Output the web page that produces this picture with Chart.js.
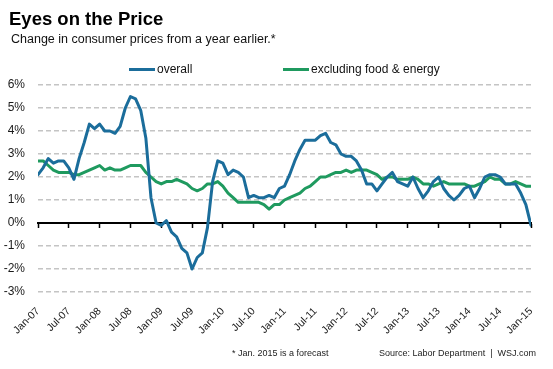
<!DOCTYPE html>
<html>
<head>
<meta charset="utf-8">
<script src="https://cdn.jsdelivr.net/npm/chart.js@4"></script>
<style>
html,body{margin:0;padding:0;background:#fff;}
#wrap{position:relative;width:553px;height:369px;overflow:hidden;font-family:"Liberation Sans",Arial,sans-serif;color:#000;}
#c{position:absolute;left:0;top:0;width:553px;height:369px;}
.t{position:absolute;white-space:nowrap;}
#title{left:9px;top:10.3px;font-size:18.5px;line-height:18.5px;font-weight:bold;}
#sub{left:11px;top:32.9px;font-size:12.5px;line-height:12.5px;color:#111;}
.li{position:absolute;top:63.1px;height:13px;}
.li0{left:129px;}
.li1{left:283px;}
.sw{position:absolute;left:0;top:5.4px;width:26px;height:3px;}
.lt{position:absolute;left:28px;top:0;font-size:12px;line-height:12px;white-space:nowrap;color:#111;}
#note{left:232px;top:349px;font-size:9px;line-height:9px;color:#222;}
#src{right:17px;top:349px;font-size:9px;line-height:9px;color:#222;}
#src .sep{margin:0 5px;}
</style>
</head>
<body>
<div id="wrap">
  <canvas id="c" width="553" height="369"></canvas>
  <div class="t" id="title">Eyes on the Price</div>
  <div class="t" id="sub">Change in consumer prices from a year earlier.*</div>
  <div id="legend"></div>
  <div class="t" id="note">* Jan. 2015 is a forecast</div>
  <div class="t" id="src">Source: Labor Department<span class="sep">|</span>WSJ.com</div>
</div>
<script>
// Tick labels for the x axis (every six months, Jan-07 .. Jan-15)
const tickLabels = ['Jan-07','Jul-07','Jan-08','Jul-08','Jan-09','Jul-09','Jan-10','Jul-10',
  'Jan-11','Jul-11','Jan-12','Jul-12','Jan-13','Jul-13','Jan-14','Jul-14','Jan-15'];

// Series names
const seriesNames = ['overall', 'excluding food & energy'];

// Monthly year-over-year change, %, Jan-07 .. Jan-15
const overall = [
  2.1, 2.4, 2.8, 2.6, 2.7, 2.7, 2.4, 1.9, 2.8, 3.5, 4.3, 4.1,
  4.3, 4.0, 4.0, 3.9, 4.2, 5.0, 5.5, 5.4, 4.9, 3.7, 1.1, 0.0,
  -0.1, 0.1, -0.4, -0.6, -1.1, -1.3, -2.0, -1.5, -1.3, -0.2, 1.8, 2.7,
  2.6, 2.1, 2.3, 2.2, 2.0, 1.1, 1.2, 1.1, 1.1, 1.2, 1.1, 1.5,
  1.6, 2.1, 2.7, 3.2, 3.6, 3.6, 3.6, 3.8, 3.9, 3.5, 3.4, 3.0,
  2.9, 2.9, 2.7, 2.3, 1.7, 1.7, 1.4, 1.7, 2.0, 2.2, 1.8, 1.7,
  1.6, 2.0, 1.5, 1.1, 1.4, 1.8, 2.0, 1.5, 1.2, 1.0, 1.2, 1.5,
  1.6, 1.1, 1.5, 2.0, 2.1, 2.1, 2.0, 1.7, 1.7, 1.7, 1.3, 0.8,
  -0.1
];
const core = [
  2.7, 2.7, 2.5, 2.3, 2.2, 2.2, 2.2, 2.1, 2.1, 2.2, 2.3, 2.4,
  2.5, 2.3, 2.4, 2.3, 2.3, 2.4, 2.5, 2.5, 2.5, 2.2, 2.0, 1.8,
  1.7, 1.8, 1.8, 1.9, 1.8, 1.7, 1.5, 1.4, 1.5, 1.7, 1.7, 1.8,
  1.6, 1.3, 1.1, 0.9, 0.9, 0.9, 0.9, 0.9, 0.8, 0.6, 0.8, 0.8,
  1.0, 1.1, 1.2, 1.3, 1.5, 1.6, 1.8, 2.0, 2.0, 2.1, 2.2, 2.2,
  2.3, 2.2, 2.3, 2.3, 2.3, 2.2, 2.1, 1.9, 2.0, 2.0, 1.9, 1.9,
  1.9, 2.0, 1.9, 1.7, 1.7, 1.6, 1.7, 1.8, 1.7, 1.7, 1.7, 1.7,
  1.6, 1.6, 1.7, 1.8, 2.0, 1.9, 1.9, 1.7, 1.7, 1.8, 1.7, 1.6,
  1.6
];

const toPoints = arr => arr.map((v, i) => ({x: i, y: v}));
const FONT = '"Liberation Sans", Arial, sans-serif';

const htmlLegend = {
  id: 'htmlLegend',
  afterUpdate(chart) {
    const box = document.getElementById('legend');
    box.innerHTML = '';
    chart.data.datasets.forEach((ds, i) => {
      const item = document.createElement('div');
      item.className = 'li li' + i;
      const sw = document.createElement('span');
      sw.className = 'sw';
      sw.style.background = ds.borderColor;
      const tx = document.createElement('span');
      tx.className = 'lt';
      tx.textContent = ds.label;
      item.append(sw, tx);
      box.appendChild(item);
    });
  }
};

new Chart(document.getElementById('c'), {
  type: 'line',
  data: {
    datasets: [
      {label: seriesNames[0], data: toPoints(overall), borderColor: '#1b6d9b', borderWidth: 3,
       pointRadius: 0, tension: 0, borderJoinStyle: 'round', borderCapStyle: 'round', fill: false},
      {label: seriesNames[1], data: toPoints(core), borderColor: '#1f9a5f', borderWidth: 3,
       pointRadius: 0, tension: 0, borderJoinStyle: 'round', borderCapStyle: 'round', fill: false}
    ]
  },
  options: {
    responsive: false,
    animation: false,
    devicePixelRatio: 1,
    layout: {padding: {top: 85, right: 22, bottom: 0, left: 0}},
    plugins: {legend: {display: false}, tooltip: {enabled: false}},
    scales: {
      x: {
        type: 'linear', position: 'bottom', min: 0, max: 96,
        afterFit(s) { s.height = 77; },
        grid: {display: false, drawTicks: false},
        border: {display: false},
        ticks: {stepSize: 6, autoSkip: false, minRotation: 45, maxRotation: 45, padding: 13,
          color: '#1a1a1a', font: {family: FONT, size: 10.5},
          callback: v => tickLabels[Math.round(v / 6)]}
      },
      x0: {
        type: 'linear', axis: 'x', position: {y: 0}, min: 0, max: 96,
        grid: {drawOnChartArea: false, drawTicks: true, tickLength: 4, tickColor: '#000', tickWidth: 1.5},
        border: {display: true, color: '#000', width: 2},
        ticks: {stepSize: 6, display: false}
      },
      y: {
        min: -3, max: 6,
        afterFit(s) { s.width = 38; },
        grid: {
          color: c => (c.tick && c.tick.value === 0) ? 'rgba(0,0,0,0)' : '#c4c4c4',
          lineWidth: 1.5, drawTicks: false
        },
        border: {display: false, dash: [5, 3]},
        ticks: {stepSize: 1, padding: 13, color: '#1a1a1a', font: {family: FONT, size: 12},
          callback: v => v + '%'}
      }
    }
  },
  plugins: [htmlLegend]
});
</script>
</body>
</html>
